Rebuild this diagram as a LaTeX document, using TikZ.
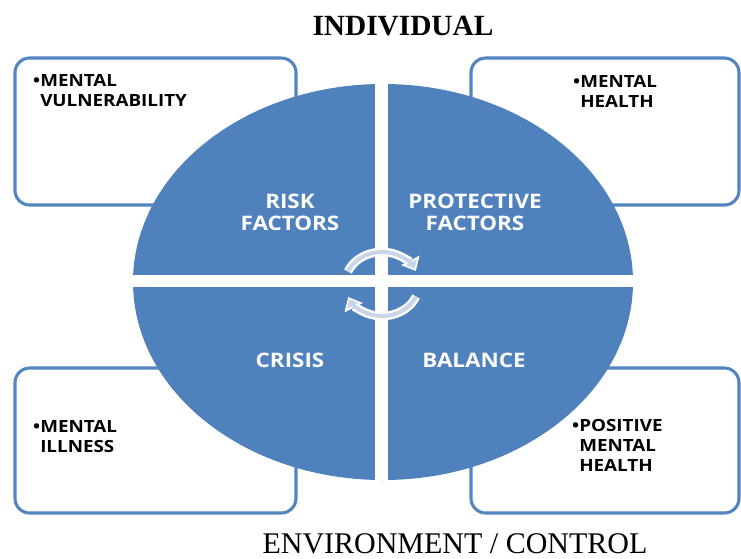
\documentclass[tikz,border=0pt]{standalone}
\usepackage{fontspec}
\setmainfont{Liberation Serif}
\newfontfamily\boxfont[FakeStretch=1.12]{Open Sans}
\usetikzlibrary{arrows.meta}
\definecolor{quadblue}{HTML}{4F81BD}
\definecolor{boxline}{HTML}{5285C0}
\definecolor{turnfill}{HTML}{C9D6E8}

\begin{document}
\begin{tikzpicture}[x=0.75pt,y=-0.75pt,
  panel/.style={draw=boxline, line width=2.3pt, rounded corners=11pt, fill=white,
                minimum width=210.75pt, minimum height=110.25pt, inner sep=0pt},
  item/.style={font=\boxfont\bfseries\fontsize{12.6}{15}\selectfont, align=left,
               inner sep=0pt, anchor=north west},
  quad/.style={font=\boxfont\bfseries\fontsize{15}{16.5}\selectfont, text=white,
               align=center, inner sep=0pt},
  turnout/.style={draw=white, line width=6.5pt, -{Triangle[length=9pt,width=15pt]}},
  turnin/.style={draw=turnfill, line width=3pt, -{Triangle[length=5.5pt,width=9pt]},
                 shorten >=1.8pt}
]
  \useasboundingbox (0,0) rectangle (741,558);

  % outcome panels behind the ellipse
  \node[panel] (vuln)     at (155.5,131.5) {};
  \node[panel, minimum width=201pt] (health) at (605,131.5) {};
  \node[panel, minimum height=108.75pt] (illness) at (155.5,440.5) {};
  \node[panel, minimum width=201pt, minimum height=108.75pt] (positive) at (605,440.5) {};

  \node[item] (vulntxt)     at (40,74)  {\llap{\textbullet}MENTAL\\VULNERABILITY};
  \node[item] (healthtxt)   at (580,75) {\llap{\textbullet}MENTAL\\HEALTH};
  \node[item] (illnesstxt)  at (40,420) {\llap{\textbullet}MENTAL\\ILLNESS};
  \node[item] (positivetxt) at (579,419) {\llap{\textbullet}POSITIVE\\MENTAL\\HEALTH};

  % the four quadrants
  \fill[quadblue] (383,282) ellipse [x radius=250, y radius=198];
  \begin{scope}
    \clip (383,282) ellipse [x radius=250, y radius=198];
    \fill[white] (375,70) rectangle (388,490);
    \fill[white] (120,275) rectangle (650,287);
  \end{scope}

  \node[quad] (risk)    at (290,212) {RISK\\FACTORS};
  \node[quad] (protect) at (475,212) {PROTECTIVE\\FACTORS};
  \node[quad] (crisis)  at (290,360) {CRISIS};
  \node[quad] (balance) at (474,360) {BALANCE};

  % turning arrows in the middle
  \coordinate (hub) at (382,284);
  \draw[turnout] (hub) ++(203:37 and 32) arc[start angle=203, end angle=336, x radius=37, y radius=32];
  \draw[turnin]  (hub) ++(203:37 and 32) arc[start angle=203, end angle=336, x radius=37, y radius=32];
  \draw[turnout] (hub) ++(23:37 and 32) arc[start angle=23, end angle=156, x radius=37, y radius=32];
  \draw[turnin]  (hub) ++(23:37 and 32) arc[start angle=23, end angle=156, x radius=37, y radius=32];

  \node[font=\bfseries\fontsize{22}{26}\selectfont, anchor=base] (individual) at (403,35) {INDIVIDUAL};
  \node[font=\fontsize{22.5}{27}\selectfont, anchor=base] (environment) at (455,553) {ENVIRONMENT / CONTROL};
\end{tikzpicture}
\end{document}
